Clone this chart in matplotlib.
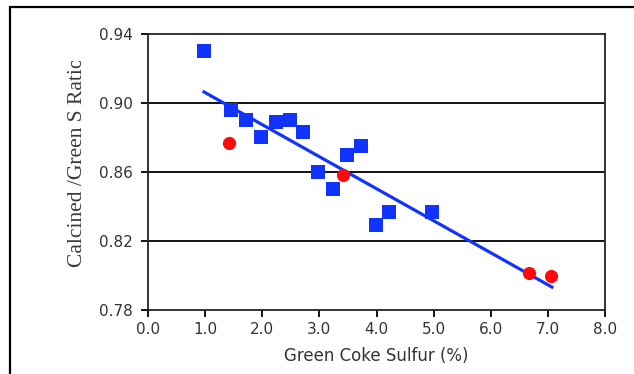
import matplotlib

matplotlib.use("Agg")
import matplotlib.pyplot as plt
from matplotlib.patches import Rectangle
from matplotlib.transforms import Bbox

# Data
blue_x = [0.98, 1.45, 1.72, 1.98, 2.24, 2.49, 2.71, 2.98, 3.24, 3.48, 3.73, 3.99, 4.22, 4.97]
blue_y = [0.930, 0.896, 0.890, 0.880, 0.889, 0.890, 0.883, 0.860, 0.850, 0.870, 0.875, 0.829, 0.837, 0.837]
red_x = [1.42, 3.41, 6.67, 7.06]
red_y = [0.877, 0.858, 0.8015, 0.7997]
trend_x = [0.98, 7.07]
trend_y = [0.9064, 0.7933]

x_ticks = [0, 1, 2, 3, 4, 5, 6, 7, 8]
y_ticks = [0.78, 0.82, 0.86, 0.90, 0.94]

W, H = 634, 374
fig = plt.figure(figsize=(W / 100, H / 100), dpi=100)
ax = fig.add_axes([148 / W, 1 - 310 / H, (605 - 148) / W, (310 - 34) / H])

# outer frame of the original figure (runs off the right and bottom)
frame = Rectangle((10 / W, -0.1), 1.2, 1 - 7.5 / H + 0.1, transform=fig.transFigure,
                  fill=False, edgecolor="black", linewidth=1.6, clip_on=False)
fig.patches.append(frame)

for yv in y_ticks[1:-1]:
    ax.axhline(yv, color="black", linewidth=1.3, zorder=1)

ax.plot(trend_x, trend_y, color="#1133ff", linewidth=2.3, zorder=2)
ax.plot(blue_x, blue_y, "s", color="#1133ff", markersize=9.5, markeredgewidth=0, zorder=3)
ax.plot(red_x, red_y, "o", color="#ff0a0a", markersize=9.5, markeredgewidth=0, zorder=3)

ax.set_xlim(0, 8)
ax.set_ylim(0.78, 0.94)
ax.set_xticks(x_ticks)
ax.set_xticklabels([f"{v:.1f}" for v in x_ticks])
ax.set_yticks(y_ticks)
ax.set_yticklabels([f"{v:.2f}" for v in y_ticks])
ax.tick_params(direction="out", length=5, width=1.3, labelsize=11, colors="black",
               labelcolor="#333333")
ax.tick_params(axis="y", pad=6)
ax.tick_params(axis="x", pad=4)
for s in ax.spines.values():
    s.set_linewidth(1.3)
    s.set_color("#222222")

ax.set_xlabel("Green Coke Sulfur (%)", fontsize=12, color="#333333", labelpad=7)

# y label is cut off at the top in the original
ylab = fig.text(78 / W, 1 - 162 / H, "Calcined /Green S Ratio", rotation=90,
                ha="center", va="center", fontsize=15.5, family="Liberation Serif",
                color="#3a3a3a")
ylab.set_clip_box(Bbox([[0, 0], [W, H - 61]]))
ylab.set_clip_on(True)

fig.savefig("out.png", dpi=100)
